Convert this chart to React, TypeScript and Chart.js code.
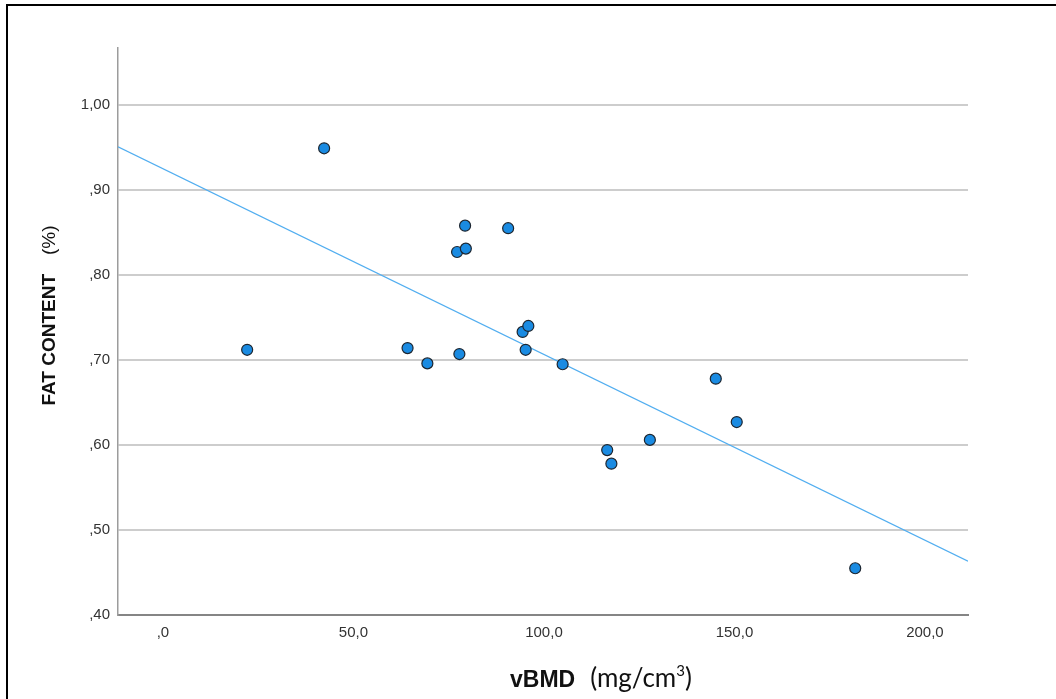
import React, { useEffect, useRef } from "react";
import { Chart, registerables } from "chart.js";

Chart.register(...registerables);

// Observed data (vBMD in mg/cm3, fat content fraction)
const vbmd = [22.1, 42.3, 64.2, 69.4, 77.2, 77.8, 79.3, 79.5, 90.6, 94.4, 95.9, 95.2, 104.9, 116.6, 117.7, 127.8, 145.1, 150.6, 181.7];
const fatContent = [0.712, 0.949, 0.714, 0.696, 0.827, 0.707, 0.858, 0.831, 0.855, 0.733, 0.74, 0.712, 0.695, 0.594, 0.578, 0.606, 0.678, 0.627, 0.455];

// Fit line
const fitIntercept = 0.925;
const fitSlope = -0.002185;

// Axis ranges and ticks
const xRange = [-11.8, 211.3];
const yRange = [0.4, 1.067];
const xTicks = [0, 50, 100, 150, 200];
const xTickLabels = [",0", "50,0", "100,0", "150,0", "200,0"];
const yTicks = [0.4, 0.5, 0.6, 0.7, 0.8, 0.9, 1.0];
const yTickLabels = [",40", ",50", ",60", ",70", ",80", ",90", "1,00"];

const xTitleBold = "vBMD";
const xTitleUnit = "(mg/cm";
const xTitleSup = "3";
const yTitleBold = "FAT CONTENT";
const yTitleUnit = "(%)";

const W = 1056;
const H = 699;

const decorPlugin = {
  id: "decor",
  afterDraw(chart: any) {
    const ctx = chart.ctx as CanvasRenderingContext2D;
    const area = chart.chartArea;
    ctx.save();
    // frame
    ctx.fillStyle = "#000";
    ctx.fillRect(6, 4, 2, H - 4);
    ctx.fillRect(6, 4, W - 6, 2);

    // x title
    ctx.fillStyle = "#111";
    ctx.textBaseline = "alphabetic";
    ctx.textAlign = "left";
    const xy = 687;
    let x = 510;
    ctx.font = 'bold 23px "Liberation Sans", Arial, sans-serif';
    ctx.fillText(xTitleBold, x, xy);
    x += ctx.measureText(xTitleBold).width + 15;
    ctx.font = '26px Lato, "Liberation Sans", sans-serif';
    ctx.fillText(xTitleUnit, x, xy);
    x += ctx.measureText(xTitleUnit).width;
    ctx.font = '15px Lato, "Liberation Sans", sans-serif';
    ctx.fillText(xTitleSup, x, xy - 11);
    x += ctx.measureText(xTitleSup).width;
    ctx.font = '26px Lato, "Liberation Sans", sans-serif';
    ctx.fillText(")", x, xy);

    // y title (rotated)
    ctx.translate(55, 0);
    ctx.rotate(-Math.PI / 2);
    ctx.font = 'bold 19px "Liberation Sans", Arial, sans-serif';
    const wb = ctx.measureText(yTitleBold).width;
    ctx.font = '19px "Liberation Sans", Arial, sans-serif';
    const wu = ctx.measureText(yTitleUnit).width;
    const gap = 19;
    const total = wb + gap + wu;
    const cy = (area.top + area.bottom) / 2 - 16;
    let s = -(cy + total / 2);
    ctx.font = 'bold 19px "Liberation Sans", Arial, sans-serif';
    ctx.fillText(yTitleBold, s, 0);
    s += wb + gap;
    ctx.font = '19px "Liberation Sans", Arial, sans-serif';
    ctx.fillText(yTitleUnit, s, 0);
    ctx.restore();
  },
};

export default function App() {
  const ref = useRef<HTMLCanvasElement | null>(null);

  useEffect(() => {
    document.body.style.margin = "0";
    const canvas = ref.current;
    if (!canvas) return;
    const points = vbmd.map((v, i) => ({ x: v, y: fatContent[i] }));
    const fit = xRange.map((v) => ({ x: v, y: fitIntercept + fitSlope * v }));
    const tickFont = { family: '"Liberation Sans", Arial, sans-serif', size: 15 };

    const chart = new Chart(canvas, {
      type: "scatter",
      data: {
        datasets: [
          {
            label: "Fat content",
            data: points,
            backgroundColor: "#1a8be2",
            borderColor: "#1d2630",
            borderWidth: 1.2,
            pointRadius: 5.5,
            order: 0,
          },
          {
            type: "line",
            label: "Fit",
            data: fit,
            borderColor: "#52aef0",
            borderWidth: 1.3,
            pointRadius: 0,
            fill: false,
            order: 1,
          } as any,
        ],
      },
      options: {
        responsive: false,
        animation: false,
        layout: { padding: { top: 48, right: 88, left: 0, bottom: 0 } },
        plugins: {
          legend: { display: false },
          tooltip: { enabled: false },
        },
        scales: {
          x: {
            type: "linear",
            min: xRange[0],
            max: xRange[1],
            afterBuildTicks: (s: any) => {
              s.ticks = xTicks.map((v) => ({ value: v }));
            },
            afterFit: (s: any) => {
              s.height = 84;
            },
            grid: { display: false, drawTicks: false },
            border: { display: true, color: "#858585", width: 2 },
            ticks: {
              padding: 9,
              color: "#333",
              font: tickFont,
              maxRotation: 0,
              callback: (_v: any, i: number) => xTickLabels[i],
            },
          },
          y: {
            type: "linear",
            min: yRange[0],
            max: yRange[1],
            afterBuildTicks: (s: any) => {
              s.ticks = yTicks.map((v) => ({ value: v }));
            },
            afterFit: (s: any) => {
              s.width = 118;
            },
            grid: { display: true, drawTicks: false, color: "#cdcdcd", lineWidth: 2 },
            border: { display: true, color: "#9c9c9c", width: 1.5 },
            ticks: {
              padding: 8,
              color: "#333",
              font: tickFont,
              callback: (_v: any, i: number) => yTickLabels[i],
            },
          },
        },
      },
      plugins: [decorPlugin],
    } as any);

    return () => chart.destroy();
  }, []);

  return (
    <div style={{ width: W, height: H, background: "#fff" }}>
      <canvas ref={ref} width={W} height={H} style={{ display: "block", width: W, height: H }} />
    </div>
  );
}
